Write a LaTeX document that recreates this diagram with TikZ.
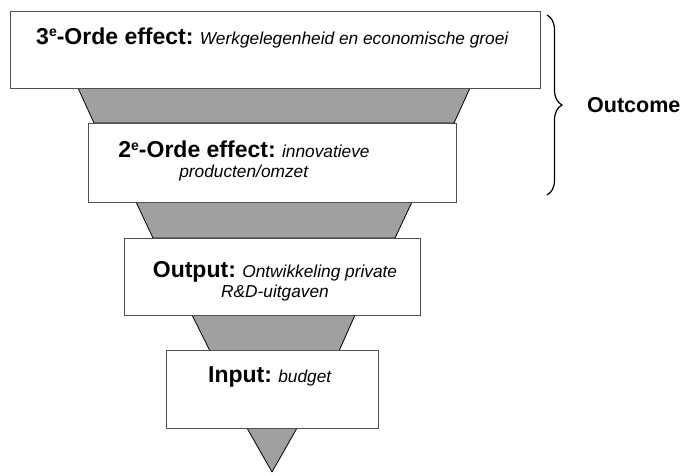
\documentclass[tikz,border=0pt]{standalone}
\usepackage{fontspec}
\setmainfont{Liberation Sans}
\usetikzlibrary{positioning,decorations.pathreplacing}

\definecolor{funnelgray}{HTML}{A0A0A0}
\definecolor{boxline}{HTML}{505050}

\tikzset{
  orde/.style={draw=boxline, fill=white, line width=0.9pt, inner sep=0pt},
  piece/.style={draw=black, fill=funnelgray, line width=0.8pt, line join=round},
  lbl/.style={inner sep=0pt, align=center, font=\fontsize{17.3}{20}\selectfont}
}
\newcommand{\kop}[1]{{\fontsize{23}{26}\selectfont\bfseries #1}}
\newcommand{\uitleg}[1]{\textit{#1}}
\newcommand{\hoog}[1]{\raisebox{7.5pt}{\fontsize{14}{14}\selectfont #1}}

\begin{document}
\begin{tikzpicture}[x=1pt,y=-1pt]
  \useasboundingbox (0,0) rectangle (684,474);

  % Draw the funnel pieces
  \filldraw[piece] (78,88) -- (470,88) -- (454,123) -- (94,123) -- cycle;
  \filldraw[piece] (136,202) -- (412,202) -- (395,238) -- (153,238) -- cycle;
  \filldraw[piece] (192,315) -- (355,315) -- (339,351) -- (210,351) -- cycle;
  \filldraw[piece] (247,428) -- (297,428) -- (272,472) -- cycle;

  % Boxes
  \node[orde, minimum width=530pt, minimum height=77pt] (box3e) at (275.5,49.5) {};
  \node[orde, minimum width=368pt, minimum height=79pt] (box2e) at (272,162.5) {};
  \node[orde, minimum width=296pt, minimum height=77pt] (boxout) at (272,276.5) {};
  \node[orde, minimum width=212pt, minimum height=78pt] (boxin) at (272,389) {};

  % Labels
  \node[lbl, anchor=north] (t3e) at (272.5,27.5)
    {\kop{3\hoog{e}-Orde effect:} \uitleg{Werkgelegenheid en economische groei}};
  \node[lbl, anchor=north] (t2e) at (244,141)
    {\kop{2\hoog{e}-Orde effect:} \uitleg{innovatieve}\\ \uitleg{producten/omzet}};
  \node[lbl, anchor=north] (tout) at (275,261)
    {\kop{Output:} \uitleg{Ontwikkeling private}\\ \uitleg{R\&D-uitgaven}};
  \node[lbl, anchor=north] (tin) at (270,366)
    {\kop{Input:} \uitleg{budget}};

  % Outcome brace
  \coordinate (bracetop) at (547,15);
  \coordinate (bracebot) at (547,195);
  \draw[decorate, decoration={brace, amplitude=15pt}, line width=1.2pt]
    (bracetop) -- (bracebot);
  \node[anchor=west, inner sep=0pt, font=\fontsize{21.5}{24}\selectfont\bfseries]
    (outcome) at (587,105.5) {Outcome};

\end{tikzpicture}
\end{document}
